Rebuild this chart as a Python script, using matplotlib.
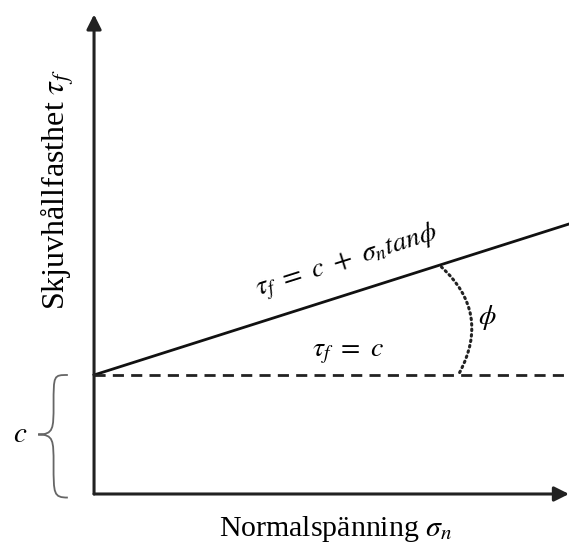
import numpy as np
import matplotlib.pyplot as plt
from matplotlib.path import Path
from matplotlib.patches import PathPatch, FancyArrowPatch

# Mohr-Coulomb sketch, schematic units (c = 1)
c = 1.0
tan_phi = 0.318
sigma_max = 3.99
tau_max = 4.03
phi_r = 3.06          # radius of the angle arc

sigma = np.array([0.0, sigma_max])
tau = c + tan_phi * sigma

plt.rcParams['mathtext.fontset'] = 'stix'
fig = plt.figure(figsize=(5.69, 5.46), dpi=100)
ax = fig.add_axes([0, 0, 1, 1])
ax.set_xlim(-0.79, 3.99)
ax.set_ylim(-0.437, 4.151)
ax.axis('off')

# axes arrows
arrow_kw = dict(arrowstyle='-|>', lw=2.2, color='#222222',
                mutation_scale=22, shrinkA=0, shrinkB=0)
ax.annotate('', xy=(sigma_max, 0), xytext=(0, 0), arrowprops=arrow_kw,
            annotation_clip=False)
ax.annotate('', xy=(0, tau_max), xytext=(0, 0), arrowprops=arrow_kw,
            annotation_clip=False)

# failure envelope and cohesion line
ax.plot(sigma, tau, color='#111111', lw=2)
ax.plot([0, sigma_max + 0.05], [c, c], color='#222222', lw=2,
        ls=(0, (4, 2.6)), clip_on=False)

# angle arc
a = np.arctan(tan_phi)
p1 = (phi_r, c)
p2 = (phi_r * np.cos(a) * 0.995, c + phi_r * np.sin(a) * 0.995)
arc = FancyArrowPatch(p1, p2, connectionstyle='arc3,rad=0.4', arrowstyle='-',
                      lw=2.2, ls=(0, (0.5, 1.3)), capstyle='round',
                      color='#222222')
ax.add_patch(arc)

# brace for c
bx = -0.22
verts = [(bx, c), (bx - 0.12, c), (bx - 0.12, c), (bx - 0.12, c * 0.75),
         (bx - 0.12, c * 0.55), (bx - 0.12, c * 0.5), (bx - 0.25, c * 0.5),
         (bx - 0.12, c * 0.5), (bx - 0.12, c * 0.45), (bx - 0.12, c * 0.25),
         (bx - 0.12, 0.0), (bx - 0.12, -0.03), (bx, -0.03)]
codes = [Path.MOVETO] + [Path.CURVE4] * 12
ax.add_patch(PathPatch(Path(verts, codes), fill=False, lw=1.3, color='#666666'))
ax.text(-0.62, c * 0.5, r'$c$', fontsize=21, ha='center', va='center')

# labels
ax.text(2.12, 1.95, r'$\tau_f\ =\ c\ +\ \sigma_n tan\phi$', fontsize=20,
        rotation=17.6, ha='center', va='center', rotation_mode='anchor')
ax.text(2.13, 1.19, r'$\tau_f\ =\ c$', fontsize=20, ha='center', va='center')
ax.text(3.3, 1.48, r'$\phi$', fontsize=20, ha='center', va='center')

ax.text(2.03, -0.29, r'Normalspänning $\sigma_n$', fontsize=21.5,
        family='Liberation Serif', ha='center', va='center')
ax.text(-0.31, 2.56, r'Skjuvhållfasthet $\tau_f$', fontsize=23,
        family='Liberation Serif', ha='center', va='center', rotation=90)

fig.savefig('out.png', dpi=100)
